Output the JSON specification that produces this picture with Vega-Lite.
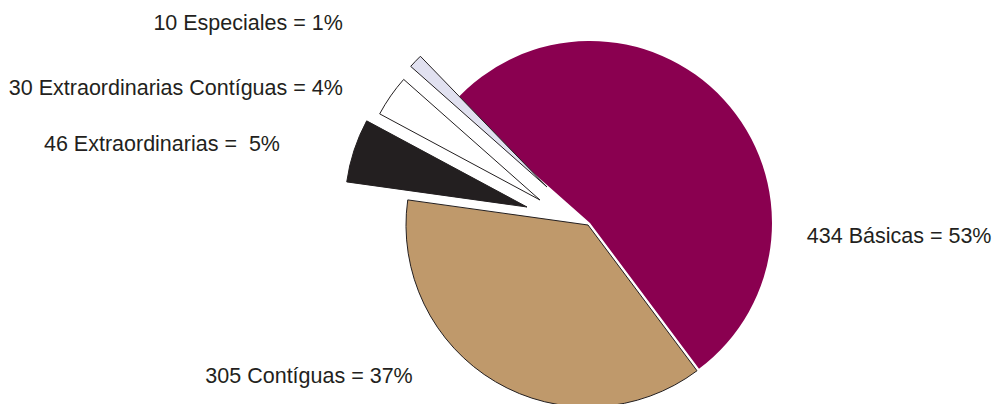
{
  "$schema": "https://vega.github.io/schema/vega-lite/v6.json",
  "width": 400,
  "height": 358,
  "autosize": "none",
  "padding": {"left": 388, "top": 46, "right": 207, "bottom": 0},
  "background": "white",
  "config": {"view": {"stroke": null}, "text": {"font": "Liberation Sans", "fontSize": 21.5, "fill": "#231F20"}},
  "data": {"values": [
    {"tipo": "Básicas", "n": 434, "etiqueta": "434 Básicas = 53%"},
    {"tipo": "Contíguas", "n": 305, "etiqueta": "305 Contíguas = 37%"},
    {"tipo": "Extraordinarias", "n": 46, "etiqueta": "46 Extraordinarias = \u00a05%"},
    {"tipo": "Extraordinarias Contíguas", "n": 30, "etiqueta": "30 Extraordinarias Contíguas = 4%"},
    {"tipo": "Especiales", "n": 10, "etiqueta": "10 Especiales = 1%"}
  ]},
  "transform": [{"stack": "n", "groupby": [], "as": ["s0", "s1"]}],
  "encoding": {
    "theta": {"field": "s0", "type": "quantitative", "stack": null, "scale": {"range": [-0.84649, 5.43669]}},
    "color": {"field": "tipo", "type": "nominal", "legend": null,
      "scale": {"domain": ["Básicas", "Contíguas", "Extraordinarias", "Extraordinarias Contíguas", "Especiales"],
                "range": ["#8A0050", "#BF996B", "#231F20", "#FFFFFF", "#E1E1F0"]}}
  },
  "layer": [
    {"transform": [{"filter": "datum.tipo == 'Básicas'"}],
     "mark": {"type": "arc", "radius": 182, "xOffset": 2, "yOffset": -2},
     "encoding": {"theta2": {"field": "s1"}}},
    {"transform": [{"filter": "datum.tipo == 'Contíguas'"}],
     "mark": {"type": "arc", "radius": 182, "stroke": "#231F20", "strokeWidth": 1},
     "encoding": {"theta2": {"field": "s1"}}},
    {"transform": [{"filter": "datum.tipo == 'Extraordinarias'"}],
     "mark": {"type": "arc", "radius": 182, "stroke": "#231F20", "strokeWidth": 1, "xOffset": -61, "yOffset": -18},
     "encoding": {"theta2": {"field": "s1"}}},
    {"transform": [{"filter": "datum.tipo == 'Extraordinarias Contíguas'"}],
     "mark": {"type": "arc", "radius": 182, "stroke": "#231F20", "strokeWidth": 1, "xOffset": -48, "yOffset": -25},
     "encoding": {"theta2": {"field": "s1"}}},
    {"transform": [{"filter": "datum.tipo == 'Especiales'"}],
     "mark": {"type": "arc", "radius": 182, "stroke": "#231F20", "strokeWidth": 1, "xOffset": -41, "yOffset": -38},
     "encoding": {"theta2": {"field": "s1"}}},
    {"transform": [{"filter": "datum.tipo == 'Especiales'"}],
     "mark": {"type": "text", "radius": 318, "align": "right", "baseline": "alphabetic", "dx": -7, "dy": 16},
     "encoding": {"text": {"field": "etiqueta"}, "color": {"value": "#231F20"}}},
    {"transform": [{"filter": "datum.tipo == 'Extraordinarias Contíguas'"}],
     "mark": {"type": "text", "radius": 276, "align": "right", "baseline": "alphabetic", "dx": -2, "dy": 1},
     "encoding": {"text": {"field": "etiqueta"}, "color": {"value": "#231F20"}}},
    {"transform": [{"filter": "datum.tipo == 'Extraordinarias'"}],
     "mark": {"type": "text", "radius": 311, "align": "right", "baseline": "alphabetic", "dx": 0, "dy": -31},
     "encoding": {"text": {"field": "etiqueta"}, "color": {"value": "#231F20"}}},
    {"transform": [{"filter": "datum.tipo == 'Básicas'"}],
     "mark": {"type": "text", "radius": 190, "align": "left", "baseline": "alphabetic", "dx": 105, "dy": -134},
     "encoding": {"theta": {"field": "s1", "type": "quantitative", "stack": null}, "text": {"field": "etiqueta"}, "color": {"value": "#231F20"}}},
    {"transform": [{"filter": "datum.tipo == 'Contíguas'"}],
     "mark": {"type": "text", "radius": 182, "align": "right", "baseline": "alphabetic", "dx": 5, "dy": 183},
     "encoding": {"theta": {"field": "s1", "type": "quantitative", "stack": null}, "text": {"field": "etiqueta"}, "color": {"value": "#231F20"}}}
  ]
}
